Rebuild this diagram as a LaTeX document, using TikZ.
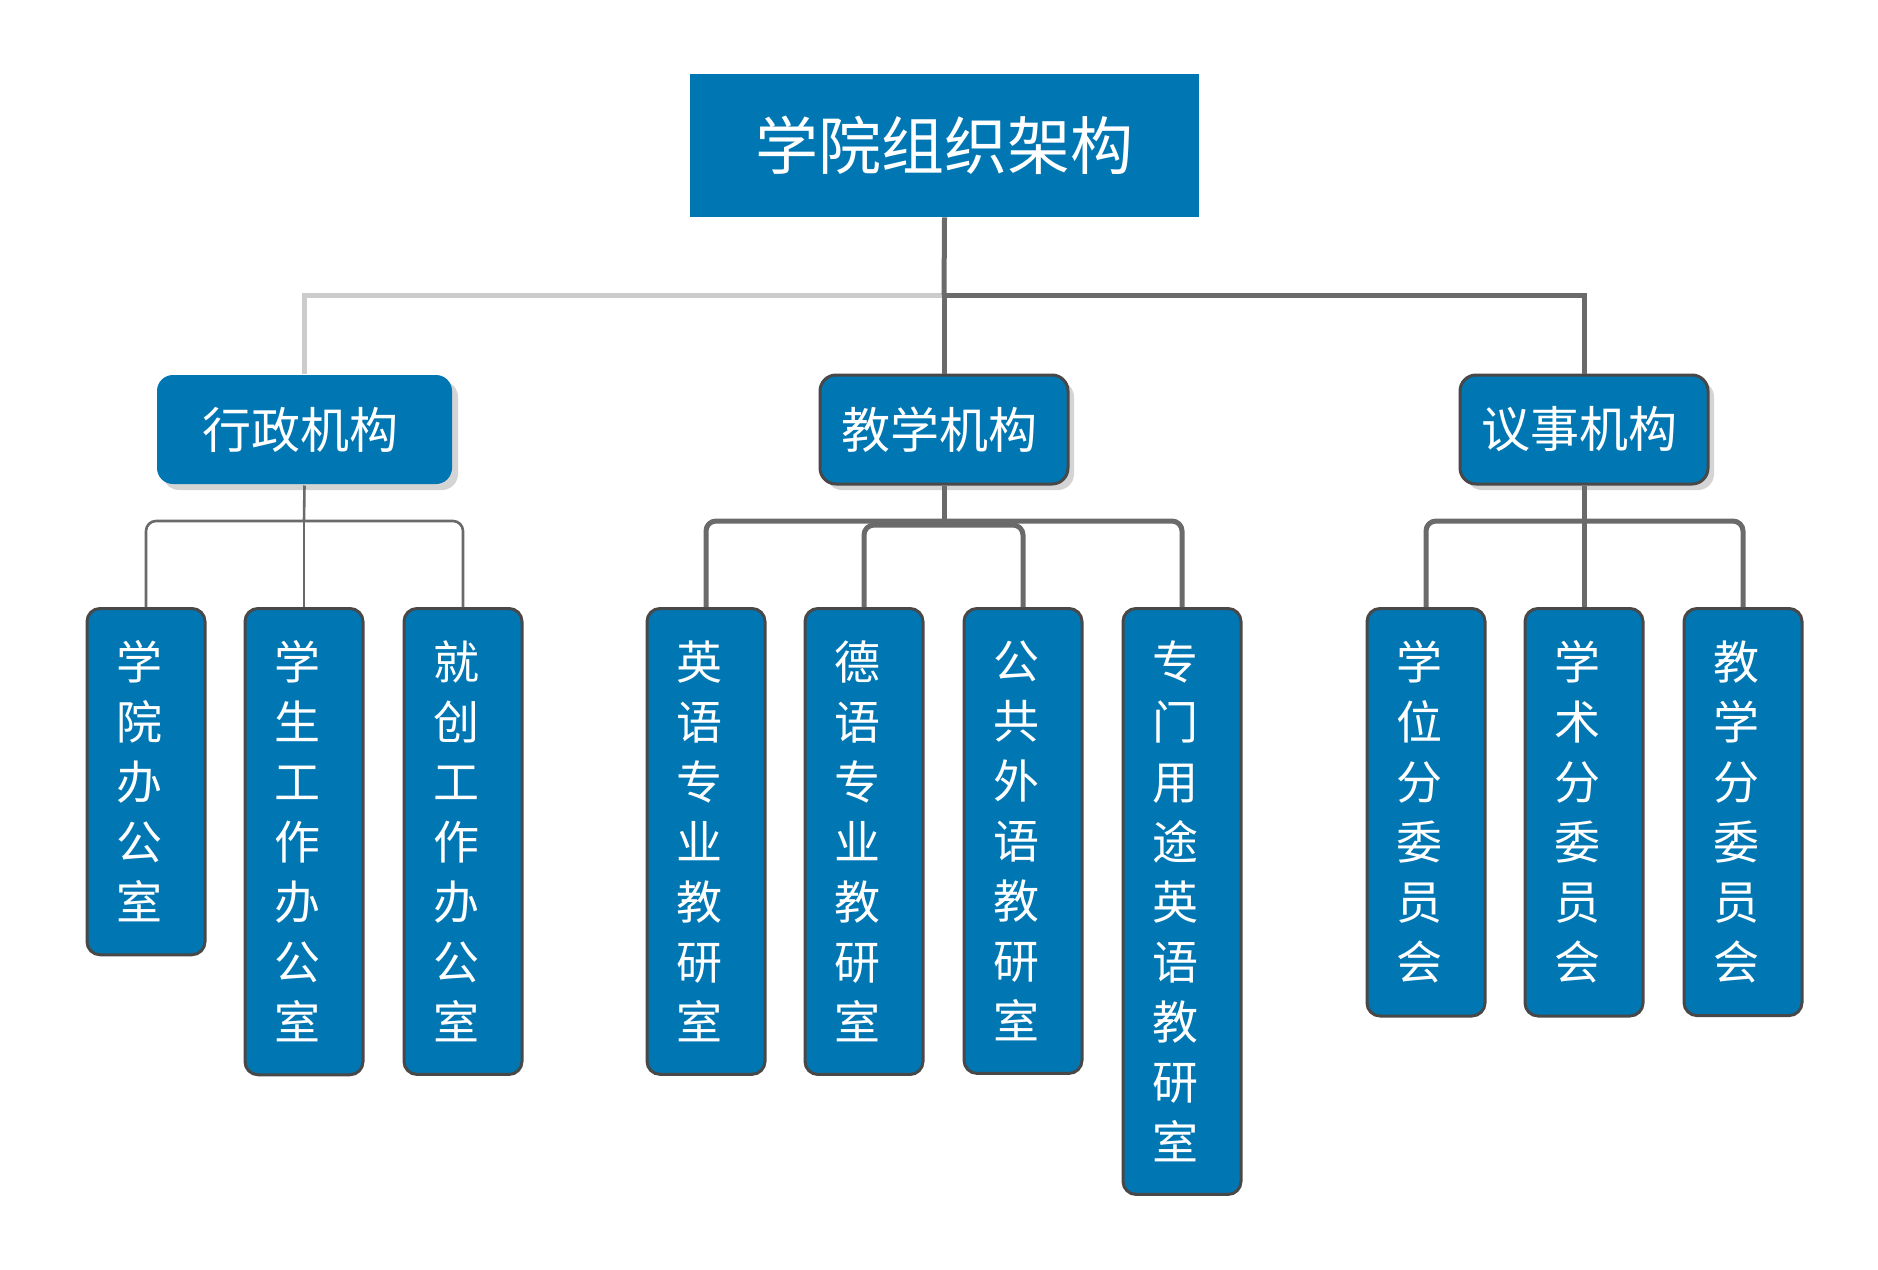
\documentclass[tikz,border=0pt]{standalone}
\usepackage{fontspec}
\newfontfamily\cjk{Noto Sans CJK SC}
\usetikzlibrary{shadows}
\definecolor{boxblue}{RGB}{0,119,179}
\definecolor{edgegray}{RGB}{72,72,72}
\definecolor{linegray}{RGB}{106,106,106}
\definecolor{lightline}{RGB}{204,204,204}
\definecolor{shadowgray}{RGB}{212,212,212}
\newcommand\lc[1]{\makebox[30pt][l]{#1}}
\newcommand\mc[1]{#1\hspace*{4.5pt}}
\begin{document}
\begin{tikzpicture}[x=0.5pt,y=-0.5pt,
  rootbox/.style={fill=boxblue, draw=none, minimum width=254.5pt, minimum height=71.5pt, inner sep=0pt,
    font=\cjk\fontsize{31.5}{36}\selectfont, text=white},
  midbox/.style={fill=boxblue, draw=edgegray, line width=1.5pt, rounded corners=8pt, minimum width=124pt,
    minimum height=54.5pt, inner sep=0pt, font=\cjk\fontsize{24.5}{28}\selectfont, text=white,
    general shadow={fill=shadowgray, shadow xshift=3pt, shadow yshift=-3pt}},
  leafbox/.style={fill=boxblue, draw=edgegray, line width=1.5pt, rounded corners=6.5pt, minimum width=59pt,
    inner xsep=0pt, inner ysep=16.2pt, align=center, anchor=north,
    font=\cjk\fontsize{23}{30}\selectfont, text=white},
  conn/.style={draw=linegray, line width=2.5pt},
  thinconn/.style={draw=linegray, line width=1.3pt},
  lightconn/.style={draw=lightline, line width=2.5pt},
]
\useasboundingbox (0,0) rectangle (1878,1269);

% root
\node[rootbox] (root) at (944.5,145.5) {学院组织架构};

% level 2
\node[midbox, minimum width=147.5pt, draw=none] (xz) at (304.5,429.5) {\mc{行政机构}};
\node[midbox] (jx) at (944,429.5) {\mc{教学机构}};
\node[midbox] (ys) at (1584,429.5) {\mc{议事机构}};

% leaves
\node[leafbox] (a1) at (146,607) {\lc{学}\\\lc{院}\\\lc{办}\\\lc{公}\\\lc{室}};
\node[leafbox] (a2) at (304,607) {\lc{学}\\\lc{生}\\\lc{工}\\\lc{作}\\\lc{办}\\\lc{公}\\\lc{室}};
\node[leafbox] (a3) at (463,607) {\lc{就}\\\lc{创}\\\lc{工}\\\lc{作}\\\lc{办}\\\lc{公}\\\lc{室}};
\node[leafbox] (b1) at (706,607) {\lc{英}\\\lc{语}\\\lc{专}\\\lc{业}\\\lc{教}\\\lc{研}\\\lc{室}};
\node[leafbox] (b2) at (864,607) {\lc{德}\\\lc{语}\\\lc{专}\\\lc{业}\\\lc{教}\\\lc{研}\\\lc{室}};
\node[leafbox] (b3) at (1023,607) {\lc{公}\\\lc{共}\\\lc{外}\\\lc{语}\\\lc{教}\\\lc{研}\\\lc{室}};
\node[leafbox] (b4) at (1182,607) {\lc{专}\\\lc{门}\\\lc{用}\\\lc{途}\\\lc{英}\\\lc{语}\\\lc{教}\\\lc{研}\\\lc{室}};
\node[leafbox] (c1) at (1426,607) {\lc{学}\\\lc{位}\\\lc{分}\\\lc{委}\\\lc{员}\\\lc{会}};
\node[leafbox] (c2) at (1584,607) {\lc{学}\\\lc{术}\\\lc{分}\\\lc{委}\\\lc{员}\\\lc{会}};
\node[leafbox] (c3) at (1743,607) {\lc{教}\\\lc{学}\\\lc{分}\\\lc{委}\\\lc{员}\\\lc{会}};

% top connectors
\coordinate (j0) at (944,295);
\draw[lightconn] (j0) -| (xz.north);
\draw[conn] (root.south) -- (j0);
\draw[conn] (j0) -| (ys.north);
\draw[conn] (j0) -- (jx.north);

% admin group
\coordinate (ja) at (304,521);
\draw[thinconn] (xz.south) -- (ja);
\draw[thinconn, rounded corners=5pt] (ja) -| (a1.north);
\draw[thinconn, rounded corners=5pt] (ja) -| (a3.north);
\draw[thinconn] (ja) -- (a2.north);

% teaching group
\coordinate (jb) at (944,521);
\coordinate (jb2) at (944,525);
\draw[conn] (jx.south) -- (jb);
\draw[conn, rounded corners=5pt] (jb) -| (b1.north);
\draw[conn, rounded corners=5pt] (jb) -| (b4.north);
\draw[conn, rounded corners=5pt] (jb2) -| (b2.north);
\draw[conn, rounded corners=5pt] (jb2) -| (b3.north);

% council group
\coordinate (jc) at (1584,521);
\draw[conn] (ys.south) -- (jc);
\draw[conn, rounded corners=5pt] (jc) -| (c1.north);
\draw[conn, rounded corners=5pt] (jc) -| (c3.north);
\draw[conn] (jc) -- (c2.north);
\end{tikzpicture}
\end{document}
